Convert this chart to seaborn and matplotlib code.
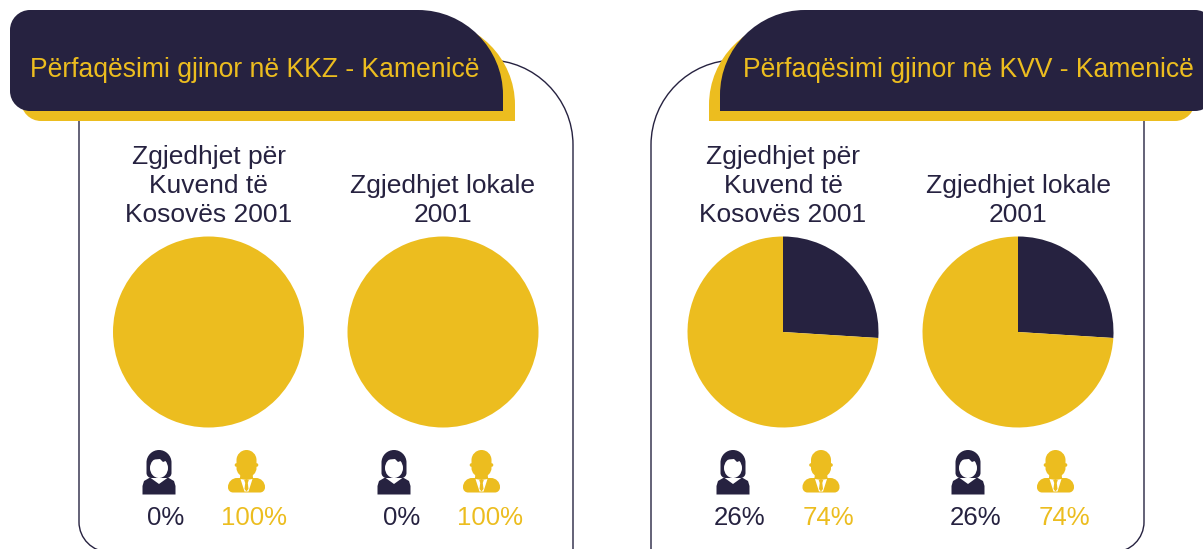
import matplotlib
matplotlib.use("Agg")
import matplotlib.pyplot as plt
import seaborn as sns
from matplotlib.patches import Circle, Ellipse, PathPatch, Polygon
from matplotlib.path import Path

# data
pie_titles = ["Zgjedhjet për\nKuvend të\nKosovës 2001", "Zgjedhjet lokale\n2001",
              "Zgjedhjet për\nKuvend të\nKosovës 2001", "Zgjedhjet lokale\n2001"]
women_pct = [0, 0, 26, 26]
men_pct = [100, 100, 74, 74]
header_titles = ["Përfaqësimi gjinor në KKZ - Kamenicë", "Përfaqësimi gjinor në KVV - Kamenicë"]

# layout, in pixels of the 1203x549 picture
W, H = 1203, 549
pie_x = [208.5, 443, 783, 1018]
pie_y = 332
pie_r = 95.5
woman_x = [159, 394, 733, 968]
man_x = [246.5, 481.5, 821, 1055.5]
label_x = [166, 402, 740, 976]
label2_x = [254, 490, 828, 1064]

dark = "#262240"
gold = "#ecbd1f"
text_font = ["Liberation Sans", "DejaVu Sans"]

sns.set_theme(style="white")
plt.rcParams["font.family"] = text_font
colors = sns.color_palette([dark, gold])

fig = plt.figure(figsize=(W / 100, H / 100), dpi=100)
bg = fig.add_axes([0, 0, 1, 1])
bg.set_xlim(0, W)
bg.set_ylim(H, 0)
bg.axis("off")


def round_box(x0, y0, x1, y1, tl, tr, br, bl):
    # box with its own radius on each corner
    k = 0.45
    verts = [(x0 + tl, y0), (x1 - tr, y0),
             (x1 - tr * k, y0), (x1, y0 + tr * k), (x1, y0 + tr),
             (x1, y1 - br),
             (x1, y1 - br * k), (x1 - br * k, y1), (x1 - br, y1),
             (x0 + bl, y1),
             (x0 + bl * k, y1), (x0, y1 - bl * k), (x0, y1 - bl),
             (x0, y0 + tl),
             (x0, y0 + tl * k), (x0 + tl * k, y0), (x0 + tl, y0)]
    codes = [Path.MOVETO, Path.LINETO,
             Path.CURVE4, Path.CURVE4, Path.CURVE4,
             Path.LINETO,
             Path.CURVE4, Path.CURVE4, Path.CURVE4,
             Path.LINETO,
             Path.CURVE4, Path.CURVE4, Path.CURVE4,
             Path.LINETO,
             Path.CURVE4, Path.CURVE4, Path.CURVE4]
    return Path(verts, codes)


def panel_side(x, inward, y0, y1, r0, r1):
    # one open side of a panel, x is the vertical run, inward the direction of the corners
    k = 0.45
    verts = [(x + inward * r0, y0),
             (x + inward * r0 * k, y0), (x, y0 + r0 * k), (x, y0 + r0),
             (x, y1 - r1),
             (x, y1 - r1 * k), (x + inward * r1 * k, y1), (x + inward * r1, y1)]
    codes = [Path.MOVETO, Path.CURVE4, Path.CURVE4, Path.CURVE4,
             Path.LINETO, Path.CURVE4, Path.CURVE4, Path.CURVE4]
    return Path(verts, codes)


# outlined panels, their bottom edge falls off the picture
bg.add_patch(PathPatch(panel_side(79, 1, 100, 552, 0, 30), fc="none", ec=dark, lw=1))
bg.add_patch(PathPatch(panel_side(573, -1, 60, 552, 85, 0), fc="none", ec=dark, lw=1))
bg.add_patch(PathPatch(panel_side(651, 1, 60, 552, 85, 0), fc="none", ec=dark, lw=1))
bg.add_patch(PathPatch(panel_side(1144, -1, 100, 552, 0, 30), fc="none", ec=dark, lw=1))

# header tabs, gold shadow first
bg.add_patch(PathPatch(round_box(21, 20, 515, 121, 20, 85, 0, 20), fc=gold, ec="none"))
bg.add_patch(PathPatch(round_box(10, 10, 503, 111, 20, 85, 0, 20), fc=dark, ec="none"))
bg.add_patch(PathPatch(round_box(709, 20, 1195, 121, 85, 20, 20, 0), fc=gold, ec="none"))
bg.add_patch(PathPatch(round_box(720, 10, 1215, 111, 85, 20, 20, 0), fc=dark, ec="none"))
bg.text(255, 70, header_titles[0], color=gold, fontsize=19.1, ha="center", va="center")
bg.text(968, 70, header_titles[1], color=gold, fontsize=19.1, ha="center", va="center")


def draw_woman(cx):
    bg.add_patch(PathPatch(round_box(cx - 12.5, 450, cx + 12.5, 478, 12.5, 12.5, 5, 5), fc=dark, ec="none"))
    bg.add_patch(Ellipse((cx, 468), 18, 20, fc="white", ec="none"))
    bg.add_patch(Polygon([(cx - 10, 460), (cx + 1, 459), (cx + 4, 462), (cx + 9, 460), (cx + 4, 455), (cx - 4, 455)],
                         fc=dark, ec="none"))
    bg.add_patch(Polygon([(cx - 9, 477.5), (cx, 484), (cx + 9, 477.5), (cx + 15, 481), (cx + 16.5, 486),
                          (cx + 16.5, 494.5), (cx - 16.5, 494.5), (cx - 16.5, 486), (cx - 15, 481)],
                         fc=dark, ec="none"))


def draw_man(cx):
    bg.add_patch(PathPatch(round_box(cx - 10, 450, cx + 10, 477, 10, 10, 9, 9), fc=gold, ec="none"))
    bg.add_patch(Circle((cx - 10, 465), 1.8, fc=gold, ec="none"))
    bg.add_patch(Circle((cx + 10, 465), 1.8, fc=gold, ec="none"))
    bg.add_patch(Polygon([(cx - 6, 474), (cx + 6, 474), (cx + 7, 481), (cx - 7, 481)], fc=gold, ec="none"))
    bg.add_patch(PathPatch(round_box(cx - 18.5, 478, cx + 18.5, 492.5, 9, 9, 5, 5), fc=gold, ec="none"))
    bg.add_patch(Polygon([(cx - 6, 479), (cx, 480), (cx + 6, 479), (cx + 2, 491.5), (cx - 2, 491.5)],
                         fc="white", ec="none"))
    bg.add_patch(Polygon([(cx - 2.3, 480), (cx + 2.3, 480), (cx + 1.3, 483), (cx + 2, 489), (cx, 491.5),
                          (cx - 2, 489), (cx - 1.3, 483)], fc=gold, ec="none"))


# pies and their labels
for i in range(4):
    ax = fig.add_axes([(pie_x[i] - pie_r) / W, 1 - (pie_y + pie_r) / H, 2 * pie_r / W, 2 * pie_r / H])
    ax.pie([women_pct[i], men_pct[i]], colors=colors, startangle=90, counterclock=False, radius=1,
           wedgeprops={"linewidth": 0})
    ax.set_xlim(-1, 1)
    ax.set_ylim(-1, 1)
    ax.patch.set_alpha(0)

    bg.text(pie_x[i], 227, pie_titles[i], color=dark, fontsize=19, ha="center", va="bottom",
            linespacing=1.26)

    draw_woman(woman_x[i])
    draw_man(man_x[i])
    bg.text(label_x[i], 518, f"{women_pct[i]}%", color=dark, fontsize=18.6, ha="center", va="center")
    bg.text(label2_x[i], 518, f"{men_pct[i]}%", color=gold, fontsize=18.6, ha="center", va="center")

fig.savefig("out.png", dpi=100)
